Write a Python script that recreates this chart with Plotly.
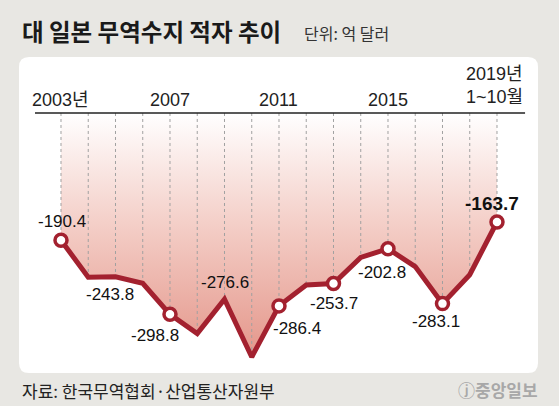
import plotly.graph_objects as go

# 대 일본 무역수지 (억 달러)
years = list(range(2003, 2020))
values = [-190.4, -244.4, -243.8, -253.3, -298.8, -327.0, -276.6, -361.2, -286.4,
          -255.8, -253.7, -215.6, -202.8, -229.0, -283.1, -240.8, -163.7]
marker_years = [2003, 2007, 2011, 2013, 2015, 2017, 2019]
label_years = [2003, 2005, 2007, 2009, 2011, 2013, 2015, 2017, 2019]
tick_years = [2003, 2007, 2011, 2015]
tick_labels = ["2003년", "2007", "2011", "2015"]
last_tick = ["2019년", "1~10월"]

W, H = 559, 406
PL, PR, PT, PB = 19, 538, 57, 373
RED = "#a3212f"
AXIS_Y = -4.2


def px(x):
    return (x - PL) / (PR - PL)


def py(y):
    return (PB - y) / (PB - PT)


val = dict(zip(years, values))

fig = go.Figure()

# baseline for the gradient fill
fig.add_trace(go.Scatter(x=years, y=[AXIS_Y] * len(years), mode="lines",
                         line=dict(width=0), hoverinfo="skip", showlegend=False))
fig.add_trace(go.Scatter(
    x=years, y=values, mode="lines", line=dict(width=0), fill="tonexty",
    fillgradient=dict(type="vertical", start=-361.2, stop=AXIS_Y,
                      colorscale=[[0, "#e4968a"], [0.55, "#f4cfc8"], [1, "#ffffff"]]),
    hoverinfo="skip", showlegend=False))

# dotted guides
gx, gy = [], []
for yr, v in zip(years, values):
    gx += [yr, yr, None]
    gy += [AXIS_Y, v, None]
fig.add_trace(go.Scatter(x=gx, y=gy, mode="lines",
                         line=dict(color="#a0a0a0", width=1, dash="dot"),
                         hoverinfo="skip", showlegend=False))

fig.add_trace(go.Scatter(x=years, y=values, mode="lines",
                         line=dict(color=RED, width=5), showlegend=False))
fig.add_trace(go.Scatter(x=marker_years, y=[val[y] for y in marker_years], mode="markers",
                         marker=dict(size=12, color="white", line=dict(color=RED, width=3.5)),
                         showlegend=False))

# value labels
offsets = {2003: (1, 19), 2005: (-5, -18), 2007: (-15, -21), 2009: (1, 17),
           2011: (18, -23), 2013: (1, -20), 2015: (-6, -24), 2017: (-6, -18),
           2019: (-5, 19)}
for yr in label_years:
    dx, dy = offsets[yr]
    big = yr == 2019
    fig.add_annotation(x=yr, y=val[yr], text=f"{val[yr]:.1f}", showarrow=False,
                       xshift=dx, yshift=dy, xanchor="center", yanchor="middle",
                       font=dict(family="Liberation Sans, Arial", size=19 if big else 17,
                                 color="#111", weight=700 if big else 400))

yfont = dict(family="Liberation Sans Narrow, Liberation Sans, Noto Sans CJK KR",
             size=18, color="#222")
for yr, t in zip(tick_years, tick_labels):
    fig.add_annotation(x=yr, y=py(100), yref="paper", text=t, showarrow=False,
                       xanchor="center", yanchor="middle", font=yfont)
fig.add_annotation(x=px(525), y=py(74.5), xref="paper", yref="paper", text=last_tick[0],
                   showarrow=False, xanchor="right", yanchor="middle", font=yfont)
fig.add_annotation(x=px(525), y=py(97), xref="paper", yref="paper", text=last_tick[1],
                   showarrow=False, xanchor="right", yanchor="middle", font=yfont)

# title, unit, source
fig.add_annotation(x=px(20), y=py(31), xref="paper", yref="paper",
                   text="대 일본 무역수지 적자 추이", showarrow=False,
                   xanchor="left", yanchor="middle",
                   font=dict(family="Noto Sans CJK KR", size=23.5, color="#1a1a1a", weight=700))
fig.add_annotation(x=px(302), y=py(33), xref="paper", yref="paper",
                   text="단위: 억 달러", showarrow=False, xanchor="left", yanchor="middle",
                   font=dict(family="Noto Sans CJK KR", size=16, color="#333"))
fig.add_annotation(x=px(20), y=py(390), xref="paper", yref="paper",
                   text="자료: 한국무역협회·산업통산자원부", showarrow=False,
                   xanchor="left", yanchor="middle",
                   font=dict(family="Noto Sans CJK KR", size=17, color="#222"))
fig.add_annotation(x=px(540), y=py(389), xref="paper", yref="paper",
                   text="ⓙ중앙일보", showarrow=False, xanchor="right", yanchor="middle",
                   font=dict(family="Noto Sans CJK KR", size=17, color="#a8a8a8", weight=700))

# white rounded panel
r = 10
rx, ry = r / (PR - PL), r / (PB - PT)
path = (f"M {rx},0 L {1-rx},0 Q 1,0 1,{ry} L 1,{1-ry} Q 1,1 {1-rx},1 "
        f"L {rx},1 Q 0,1 0,{1-ry} L 0,{ry} Q 0,0 {rx},0 Z")
fig.add_shape(type="path", path=path, xref="paper", yref="paper",
              fillcolor="white", line=dict(width=0), layer="below")
# top axis line
fig.add_shape(type="line", x0=2002.046, x1=2020.03, y0=AXIS_Y, y1=AXIS_Y,
              line=dict(color="#222", width=1.5))

fig.update_layout(
    width=W, height=H,
    margin=dict(l=PL, r=W - PR, t=PT, b=H - PB),
    paper_bgcolor="#e8e7e3", plot_bgcolor="rgba(0,0,0,0)",
    xaxis=dict(range=[2001.459, 2020.505], visible=False, fixedrange=True),
    yaxis=dict(range=[-384.6, 77.7], visible=False, fixedrange=True),
    showlegend=False,
)

fig.write_html("out.html", config={"displayModeBar": False},
               post_script="document.body.style.margin='0';document.body.style.overflow='hidden';")
